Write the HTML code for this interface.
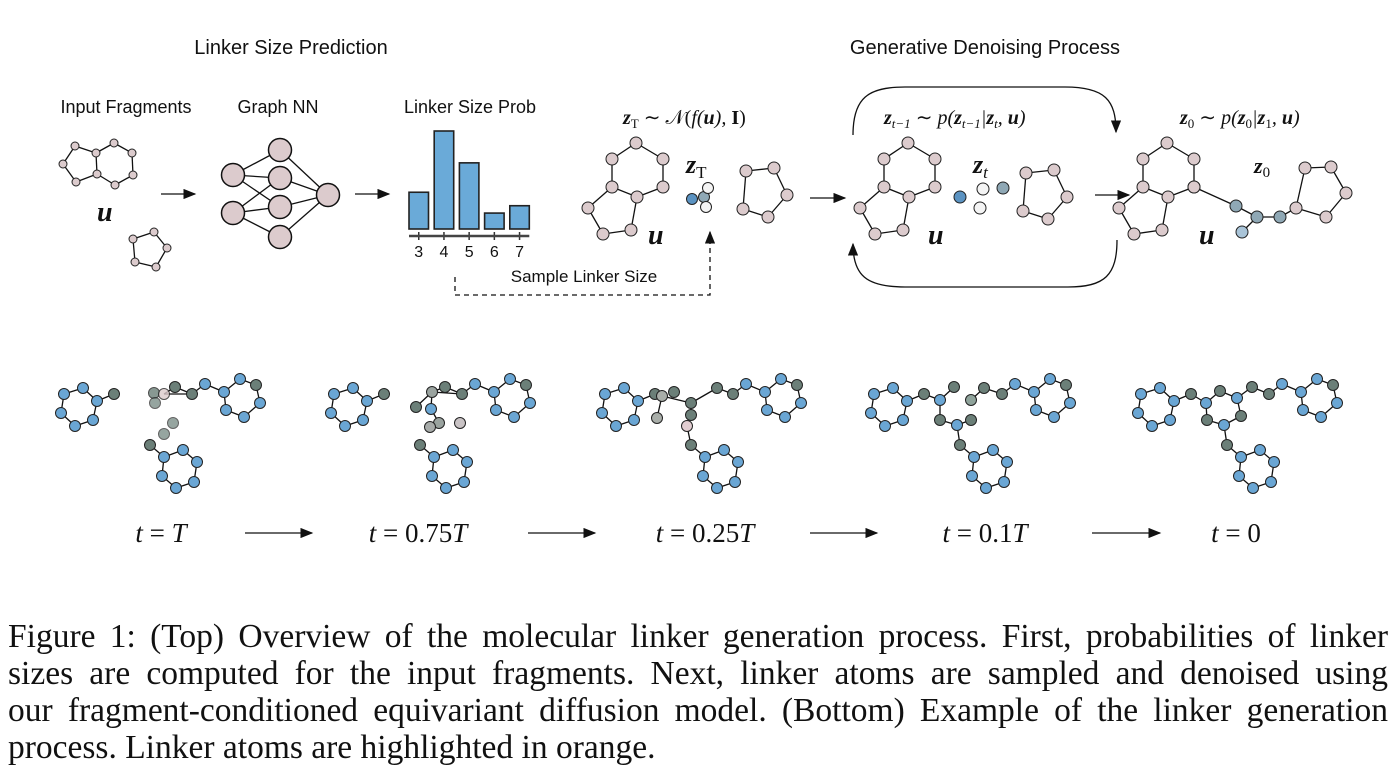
<!DOCTYPE html>
<html><head><meta charset="utf-8"><style>
body{margin:0;background:#fff;width:1400px;height:783px;overflow:hidden;position:relative}
svg{position:absolute;left:0;top:0}
.cap{position:absolute;left:8px;width:1380px;font-family:"Liberation Serif",serif;font-size:33.5px;color:#111;line-height:37px;top:618px}
.cap div{text-align:justify;text-align-last:justify;white-space:nowrap;overflow:visible}
.cap div.last{text-align-last:left}
.sans{font-family:"Liberation Sans",sans-serif}
.ser{font-family:"Liberation Serif",serif}
</style></head><body>
<svg id="fig" width="1400" height="610" viewBox="0 0 1400 610">
<defs><marker id="ah" markerWidth="10" markerHeight="8" refX="9" refY="4" orient="auto"><path d="M0,0 L10,4 L0,8 z" fill="#111"/></marker></defs>
<g class="sans" font-size="20" fill="#111" text-anchor="middle">
<text x="291" y="54">Linker Size Prediction</text>
<text x="985" y="54">Generative Denoising Process</text>
<text x="126" y="113" font-size="18">Input Fragments</text>
<text x="278" y="113" font-size="18">Graph NN</text>
<text x="470" y="113" font-size="18">Linker Size Prob</text>
<text x="584" y="282" font-size="17">Sample Linker Size</text>
</g>
<g id="topg" stroke="#111" fill="none" stroke-width="1.3"></g>
<g id="bars"></g>
<g id="bottom"></g>
<g class="ser" font-style="italic" fill="#111">
<text x="623" y="124" font-size="20"><tspan font-weight="bold">z</tspan><tspan font-size="13" dy="4" font-style="normal">T</tspan><tspan dy="-4" font-style="normal"> ∼ 𝒩(</tspan>f(<tspan font-weight="bold">u</tspan>), <tspan font-weight="bold" font-style="normal">I</tspan><tspan font-style="normal">)</tspan></text>
<text x="884" y="124" font-size="20"><tspan font-weight="bold">z</tspan><tspan font-size="13" dy="4">t−1</tspan><tspan dy="-4" font-style="normal"> ∼ </tspan>p(<tspan font-weight="bold">z</tspan><tspan font-size="13" dy="4">t−1</tspan><tspan dy="-4">|</tspan><tspan font-weight="bold">z</tspan><tspan font-size="13" dy="4">t</tspan><tspan dy="-4">, </tspan><tspan font-weight="bold">u</tspan>)</text>
<text x="1180" y="124" font-size="20"><tspan font-weight="bold">z</tspan><tspan font-size="13" dy="4" font-style="normal">0</tspan><tspan dy="-4" font-style="normal"> ∼ </tspan>p(<tspan font-weight="bold">z</tspan><tspan font-size="13" dy="4" font-style="normal">0</tspan><tspan dy="-4">|</tspan><tspan font-weight="bold">z</tspan><tspan font-size="13" dy="4" font-style="normal">1</tspan><tspan dy="-4">, </tspan><tspan font-weight="bold">u</tspan>)</text>
<text x="97" y="221" font-size="28" font-weight="bold">u</text>
<text x="648" y="244" font-size="28" font-weight="bold">u</text>
<text x="928" y="244" font-size="28" font-weight="bold">u</text>
<text x="1199" y="244" font-size="28" font-weight="bold">u</text>
<text x="686" y="173" font-size="26"><tspan font-weight="bold">z</tspan><tspan font-size="17" dy="5" font-style="normal">T</tspan></text>
<text x="973" y="173" font-size="26"><tspan font-weight="bold">z</tspan><tspan font-size="17" dy="5">t</tspan></text>
<text x="1254" y="173" font-size="22"><tspan font-weight="bold">z</tspan><tspan font-size="15" dy="4" font-style="normal">0</tspan></text>
</g>
<g class="ser" font-size="27" fill="#111" text-anchor="middle">
<text x="161" y="542"><tspan font-style="italic">t</tspan> = <tspan font-style="italic">T</tspan></text>
<text x="418" y="542"><tspan font-style="italic">t</tspan> = 0.75<tspan font-style="italic">T</tspan></text>
<text x="705" y="542"><tspan font-style="italic">t</tspan> = 0.25<tspan font-style="italic">T</tspan></text>
<text x="985" y="542"><tspan font-style="italic">t</tspan> = 0.1<tspan font-style="italic">T</tspan></text>
<text x="1236" y="542"><tspan font-style="italic">t</tspan> = 0</text>
</g>
<g stroke="#111" stroke-width="1.3" fill="none" marker-end="url(#ah)">
<line x1="245" y1="533" x2="312" y2="533"/>
<line x1="528" y1="533" x2="595" y2="533"/>
<line x1="810" y1="533" x2="877" y2="533"/>
<line x1="1092" y1="533" x2="1160" y2="533"/>
<line x1="161" y1="194" x2="195" y2="194"/>
<line x1="355" y1="194" x2="389" y2="194"/>
<line x1="810" y1="198" x2="845" y2="198"/>
<line x1="1095" y1="195" x2="1129" y2="195"/>
<path d="M853,135 C853,98 868,87 905,87 L1065,87 C1105,87 1116,100 1116,132"/>
<path d="M1117,240 C1117,275 1105,287 1068,287 L905,287 C866,287 853,275 853,244"/>
<path d="M455,277 L455,295 L710,295 L710,232" stroke-dasharray="5,4"/>
</g>
</svg>
<div class="cap">
<div>Figure 1: (Top) Overview of the molecular linker generation process. First, probabilities of linker</div>
<div>sizes are computed for the input fragments. Next, linker atoms are sampled and denoised using</div>
<div>our fragment-conditioned equivariant diffusion model. (Bottom) Example of the linker generation</div>
<div class="last">process. Linker atoms are highlighted in orange.</div>
</div>
<script>
// bar chart data
const sizes = ["3","4","5","6","7"];
const probs = [0.15, 0.40, 0.27, 0.065, 0.095];
const NS = "http://www.w3.org/2000/svg";
function mk(tag, attrs, parent){const e=document.createElementNS(NS,tag);for(const k in attrs)e.setAttribute(k,attrs[k]);parent.appendChild(e);return e;}
const barsG=document.getElementById('bars');
const x0=409, step=25.2, bw=19.5, base=229, yScale=245;
function xPos(i){return x0+i*step;}
function yPos(v){return base-v*yScale;}
probs.forEach((p,i)=>{
  const r=mk('rect',{x:xPos(i),y:yPos(p),width:bw,height:base-yPos(p),fill:'#6aaad8',stroke:'#222','stroke-width':1.6},barsG);
  
  
  mk('line',{x1:xPos(i)+bw/2,x2:xPos(i)+bw/2,y1:232,y2:240,stroke:'#333','stroke-width':1.5},barsG);
  const lb=mk('text',{x:xPos(i)+bw/2,y:257,'text-anchor':'middle','font-size':16,'font-family':'Liberation Sans, sans-serif',fill:'#111'},barsG);
  lb.textContent=sizes[i];
  
  
});
const ax=mk('line',{x1:x0,x2:xPos(4)+bw,y1:236,y2:236,stroke:'#444','stroke-width':2.5},barsG);



const PINK='#dccbcd', BLUE='#6aa6d4', GRAY='#6b7f78', WHITE='#f4f4f4', GB='#8fa8b5';
function mol(g,atoms,bonds,dx,dy,r,name){
  const grp=mk('g',{},g);
  
  
  bonds.forEach(b=>{const a=atoms[b[0]],c=atoms[b[1]];if(!a||!c)return;mk('line',{x1:a[0]+dx,y1:a[1]+dy,x2:c[0]+dx,y2:c[1]+dy,stroke:'#111','stroke-width':1.3},grp);});
  atoms.forEach(a=>{mk('circle',{cx:a[0]+dx,cy:a[1]+dy,r:a[3]||r,fill:a[2],stroke:'#222','stroke-width':1,opacity:a[4]||1},grp);});
}
const topG=document.getElementById('topg');
mol(topG,[[75,146,PINK],[96,153,PINK],[114,143,PINK],[132,153,PINK],[133,175,PINK],[115,185,PINK],[97,174,PINK],[76,182,PINK],[63,164,PINK]],
 [[0,1],[1,2],[2,3],[3,4],[4,5],[5,6],[6,1],[6,7],[7,8],[8,0]],0,0,4,'input-fragment-fused');
mol(topG,[[154,232,PINK],[167,248,PINK],[156,267,PINK],[135,262,PINK],[133,239,PINK]],[[0,1],[1,2],[2,3],[3,4],[4,0]],0,0,4,'input-fragment-ring');
const nIn=[[233,175],[233,213]], nH=[[280,150],[280,178],[280,207],[280,237]], nO=[[328,195]];
const nn=mk('g',{},topG);


[[0,0],[0,1],[0,2],[1,1],[1,2],[1,3]].forEach(e=>mk('line',{x1:nIn[e[0]][0],y1:nIn[e[0]][1],x2:nH[e[1]][0],y2:nH[e[1]][1],stroke:'#111'},nn));
nH.forEach(h=>mk('line',{x1:h[0],y1:h[1],x2:nO[0][0],y2:nO[0][1],stroke:'#111'},nn));
nIn.concat(nH,nO).forEach(c=>mk('circle',{cx:c[0],cy:c[1],r:11.5,fill:PINK,stroke:'#111','stroke-width':1.5},nn));
const bigA=[[636,143,PINK],[663,159,PINK],[663,187,PINK],[637,197,PINK],[612,187,PINK],[612,159,PINK],[631,230,PINK],[603,234,PINK],[588,208,PINK]];
const bigB=[[0,1],[1,2],[2,3],[3,4],[4,5],[5,0],[3,6],[6,7],[7,8],[8,4]];
const pentA=[[746,171,PINK],[774,168,PINK],[787,195,PINK],[768,217,PINK],[743,209,PINK]];
const pentB=[[0,1],[1,2],[2,3],[3,4],[4,0]];
[0,272,531].forEach((d,i)=>mol(topG,bigA,bigB,d,0,6,'fragment-u-'+(i+1)));
mol(topG,pentA,pentB,0,0,6,'fragment-ring-1');
mol(topG,pentA,pentB,280,2,6,'fragment-ring-2');
mol(topG,[[692,199,'#5b93c2'],[704,197,GB],[708,188,WHITE],[706,207,WHITE]],[],0,0,5.5,'zT-atoms');
mol(topG,[[960,197,'#5b93c2'],[983,189,WHITE],[1003,188,GB],[980,208,WHITE]],[],0,0,6,'zt-atoms');
mol(topG,[[1194,187,PINK],[1236,206,GB],[1257,217,GB],[1280,217,GB],[1242,232,'#a9c4d8'],[1305,168,PINK],[1331,167,PINK],[1346,193,PINK],[1326,217,PINK],[1296,208,PINK]],
 [[0,1],[1,2],[2,3],[3,9],[2,4],[5,6],[6,7],[7,8],[8,9],[9,5]],0,0,6,'z0-molecule');

const bot=document.getElementById('bottom');
const fragAtoms=[[64,394,BLUE],[83,388,BLUE],[97,401,BLUE],[93,420,BLUE],[75,426,BLUE],[61,413,BLUE],[114,394,GRAY],
 [224,392,BLUE],[240,379,BLUE],[256,385,GRAY],[260,403,BLUE],[244,417,BLUE],[226,410,BLUE],[205,384,BLUE],[192,394,GRAY],
 [150,445,GRAY],[164,457,BLUE],[183,450,BLUE],[197,462,BLUE],[194,482,BLUE],[176,488,BLUE],[162,476,BLUE]];
const fragBonds=[[0,1],[1,2],[2,3],[3,4],[4,5],[5,0],[2,6],[7,8],[8,9],[9,10],[10,11],[11,12],[12,7],[7,13],[13,14],[15,16],[16,17],[17,18],[18,19],[19,20],[20,21],[21,16]];
const offsets=[0,270,541,810,1077];
// linker bonds: numbers = fragment atom index, 'Lk' = linker atom k
const linkers=[
 {a:[[154,393,GRAY,5.5,0.8],[164,394,PINK,5.5,0.8],[155,403,GRAY,5.5,0.7],[175,387,GRAY],[173,423,GRAY,5.5,0.7],[164,434,GRAY,5.5,0.7]],b:[['L1',14],['L3',14],['L1','L3']]},
 {a:[[162,392,'#9aa39f'],[175,387,GRAY],[146,407,GRAY],[161,409,BLUE],[169,423,'#9aa39f'],[160,427,'#a7aba9'],[190,423,'#c9c3c5']],b:[['L0',14],['L1',14],['L0','L1'],['L0','L3'],['L0','L2'],['L3','L4']]},
 {a:[[121,396,'#a9aea9'],[133,392,GRAY],[116,418,'#a9aea9'],[150,403,GRAY],[150,415,GRAY],[146,426,'#e2cdd1'],[176,388,GRAY]],b:[[6,'L0'],['L0','L3'],['L0','L2'],['L3','L6'],['L6',14],['L3','L4'],['L5',15]]},
 {a:[[130,400,BLUE],[144,387,GRAY],[130,420,GRAY],[147,425,BLUE],[161,420,GRAY],[161,400,'#8fa39b'],[174,388,GRAY]],b:[[6,'L0'],['L0','L1'],['L0','L2'],['L2','L3'],['L3','L4'],['L3',15],['L5','L6'],['L6',14]]},
 {a:[[129,403,BLUE],[143,391,GRAY],[160,398,BLUE],[164,416,GRAY],[147,425,BLUE],[130,420,GRAY],[175,387,GRAY]],b:[['L0','L1'],['L1','L2'],['L2','L3'],['L3','L4'],['L4','L5'],['L5','L0'],[6,'L0'],['L2','L6'],['L6',14],['L4',15]]}
];
offsets.forEach((dx,i)=>{
  const L=linkers[i], n=fragAtoms.length;
  const atoms=fragAtoms.concat(L.a);
  const m=v=>typeof v==='string'? n+parseInt(v.slice(1)) : v;
  const bonds=fragBonds.concat(L.b.map(b=>[m(b[0]),m(b[1])]));
  mol(bot,atoms,bonds,dx,0,5.5,'molecule-snapshot-'+(i+1));
});
</script>
</body></html>
